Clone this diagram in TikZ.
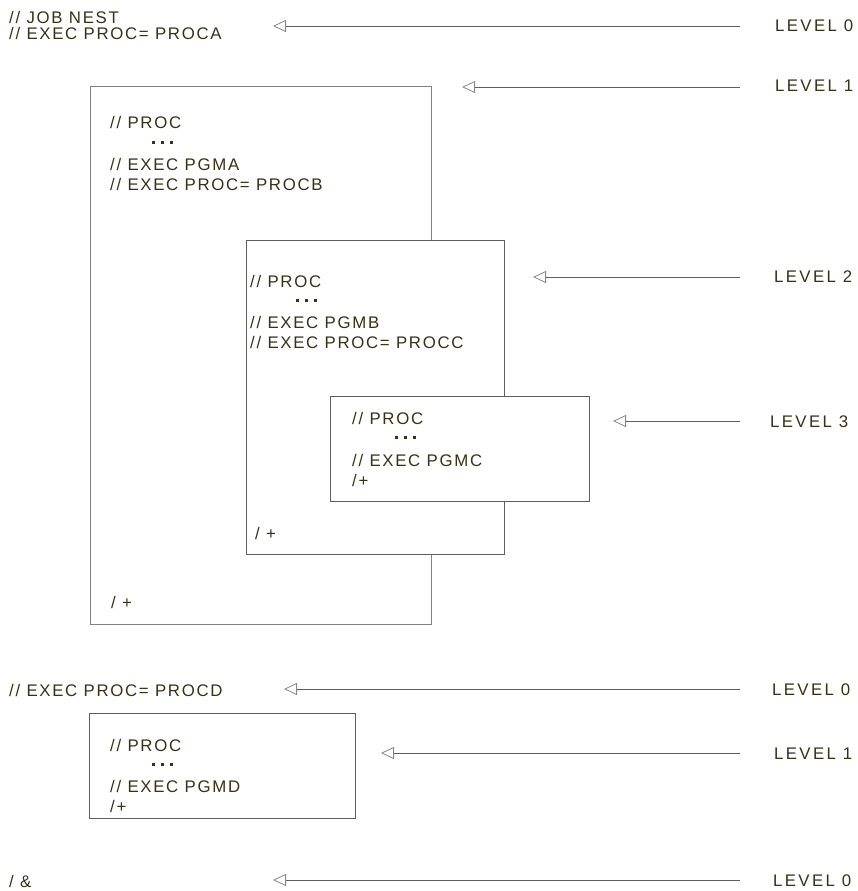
\documentclass[tikz,border=0pt]{standalone}
\usepackage{fontspec}
\setmainfont{Liberation Sans}[LetterSpace=10]
\newfontfamily\levelfont{Liberation Sans}[LetterSpace=14]
\usetikzlibrary{arrows.meta}

\definecolor{ink}{RGB}{52,52,22}
\definecolor{rule}{RGB}{95,95,95}
\definecolor{outer}{RGB}{130,130,130}
\definecolor{tipline}{RGB}{135,135,135}

\tikzset{
  jcl/.style={anchor=west, inner sep=0pt, text height=12pt, text depth=0pt,
              text=ink, font=\fontsize{16.8}{20}\selectfont},
  levellabel/.style={jcl, font=\levelfont\fontsize{16.8}{20}\selectfont},
  frame/.style={draw=rule, line width=0.9pt, fill=white},
  outerframe/.style={draw=outer, line width=1pt, fill=white},
  pointer/.style={draw=rule, line width=0.9pt,
                  {Triangle[open, length=13pt, width=12pt, line width=0.8pt, color=tipline]}-},
}

% three square dots standing for omitted statements
\newcommand\jcldots[2]{%
  \foreach \k in {0,1,2}
    \fill[ink] (#1+\k*9-1.5, #2-1.5) rectangle ++(3,3);
}

\begin{document}
\begin{tikzpicture}[x=1pt, y=-1pt]
  \fill[white] (0,0) rectangle (858,891);
  \useasboundingbox (0,0) rectangle (858,891);

  % ---- job level statements
  \node[jcl] (job)   at (9,17.5) {// JOB NEST};
  \node[jcl] (execa) at (9,34)   {// EXEC PROC= PROCA};

  % ---- procedure A
  \draw[outerframe] (90,86) rectangle (431,624);
  \node[jcl] (procA) at (110,122) {// PROC};
  \jcldots{153}{142}
  \node[jcl] (pgma)  at (110,164) {// EXEC PGMA};
  \node[jcl] (execb) at (110,184) {// EXEC PROC= PROCB};
  \node[jcl] (endA)  at (111,602) {/ +};

  % ---- procedure B
  \draw[frame] (246,240) rectangle (504,554);
  \node[jcl] (procB) at (250,281) {// PROC};
  \jcldots{297}{300}
  \node[jcl] (pgmb)  at (250,322) {// EXEC PGMB};
  \node[jcl] (execc) at (250,342) {// EXEC PROC= PROCC};
  \node[jcl] (endB)  at (255,533) {/ +};

  % ---- procedure C
  \draw[frame] (330,396) rectangle (589,501);
  \node[jcl] (procC) at (352,418) {// PROC};
  \jcldots{396}{437}
  \node[jcl] (pgmc)  at (352,460) {// EXEC PGMC};
  \node[jcl] (endC)  at (352,480) {/+};

  % ---- second job step
  \node[jcl] (execd) at (9,690) {// EXEC PROC= PROCD};

  % ---- procedure D
  \draw[frame] (89,713) rectangle (355,818);
  \node[jcl] (procD) at (110,745) {// PROC};
  \jcldots{153}{764}
  \node[jcl] (pgmd)  at (110,786) {// EXEC PGMD};
  \node[jcl] (endD)  at (110,806) {/+};

  % ---- end of job
  \node[jcl] (jobend) at (9,881) {/ \&};

  % ---- nesting level labels
  \node[levellabel] (lv0a) at (775,25.5) {LEVEL 0};
  \node[levellabel] (lv1a) at (775,86)   {LEVEL 1};
  \node[levellabel] (lv2)  at (774,276)  {LEVEL 2};
  \node[levellabel] (lv3)  at (770,421)  {LEVEL 3};
  \node[levellabel] (lv0b) at (772,689)  {LEVEL 0};
  \node[levellabel] (lv1b) at (774,753)  {LEVEL 1};
  \node[levellabel] (lv0c) at (773,880)  {LEVEL 0};

  % ---- pointer end points
  \coordinate (t0a) at (273,26);  \coordinate (e0a) at (740,26);
  \coordinate (t1a) at (462,87);  \coordinate (e1a) at (740,87);
  \coordinate (t2)  at (533,277); \coordinate (e2)  at (740,277);
  \coordinate (t3)  at (613,421); \coordinate (e3)  at (740,421);
  \coordinate (t0b) at (284,689); \coordinate (e0b) at (740,689);
  \coordinate (t1b) at (381,753); \coordinate (e1b) at (740,753);
  \coordinate (t0c) at (273,880); \coordinate (e0c) at (740,880);

  \draw[pointer] (t0a) -- (e0a);
  \draw[pointer] (t1a) -- (e1a);
  \draw[pointer] (t2)  -- (e2);
  \draw[pointer] (t3)  -- (e3);
  \draw[pointer] (t0b) -- (e0b);
  \draw[pointer] (t1b) -- (e1b);
  \draw[pointer] (t0c) -- (e0c);
\end{tikzpicture}
\end{document}
